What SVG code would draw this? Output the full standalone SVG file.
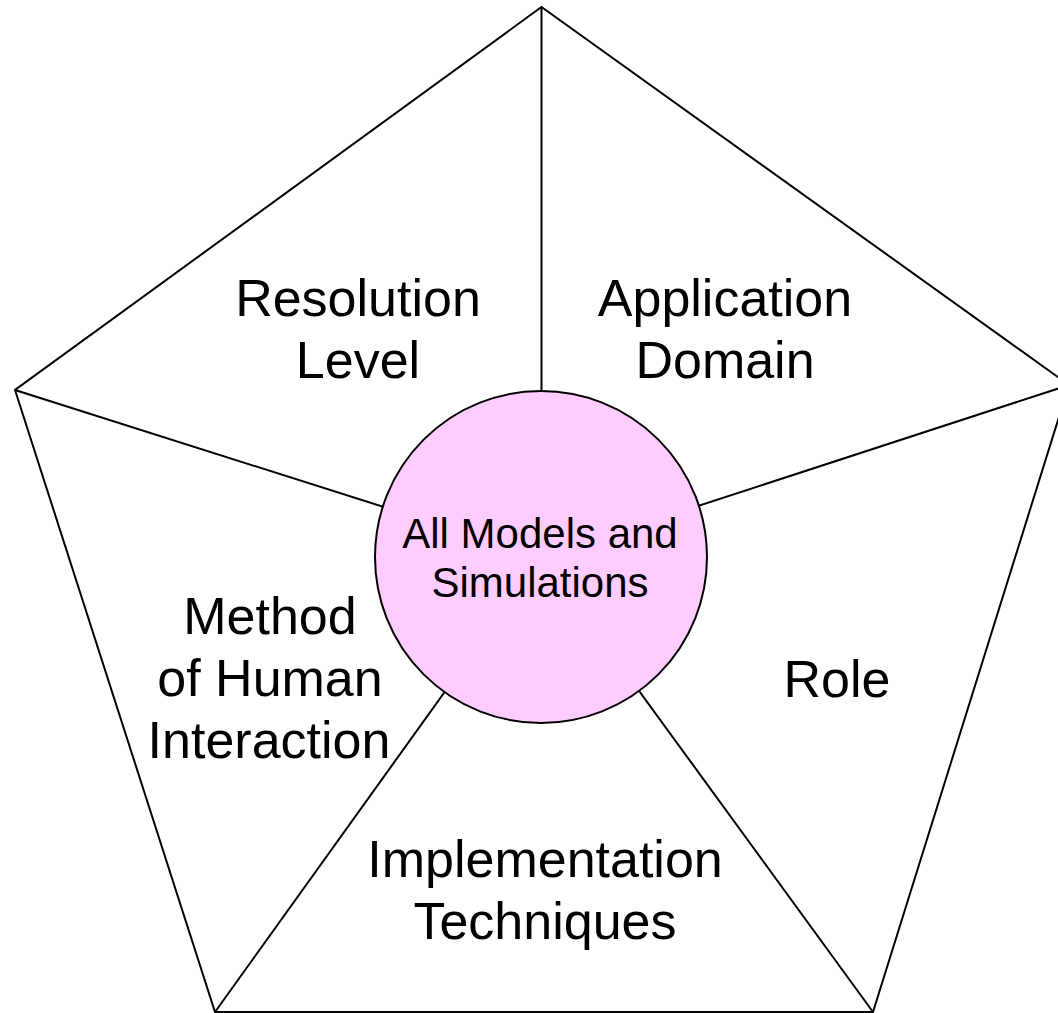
<svg xmlns="http://www.w3.org/2000/svg" width="1058" height="1013" viewBox="0 0 1058 1013">
<style>
.edge{stroke:#000;stroke-width:2;fill:none}
.lbl{font-family:"Liberation Sans",Arial,sans-serif;font-size:52px;fill:#000;text-anchor:middle}
.in{font-family:"Liberation Sans",Arial,sans-serif;font-size:42px;fill:#000;text-anchor:middle}
</style>
<rect width="1058" height="1013" fill="#fff"/>
<g id="connectors">
<polygon class="edge" points="541.5,7 1069,385 873,1012 215,1012 15,390"/>
<line class="edge" x1="541.5" y1="7" x2="541.5" y2="557"/>
<line class="edge" x1="1069" y1="385" x2="541.5" y2="557"/>
<line class="edge" x1="873" y1="1012" x2="541.5" y2="557"/>
<line class="edge" x1="215" y1="1012" x2="541.5" y2="557"/>
<line class="edge" x1="15" y1="390" x2="541.5" y2="557"/>
</g>
<g id="resolution"><text class="lbl" x="358" y="316">Resolution</text><text class="lbl" x="358" y="378">Level</text></g>
<g id="application"><text class="lbl" x="725" y="316">Application</text><text class="lbl" x="725" y="378">Domain</text></g>
<g id="method"><text class="lbl" x="270" y="634">Method</text><text class="lbl" x="270" y="696">of Human</text><text class="lbl" x="269" y="758">Interaction</text></g>
<g id="role"><text class="lbl" x="837" y="697">Role</text></g>
<g id="implementation"><text class="lbl" x="545" y="877">Implementation</text><text class="lbl" x="545" y="939">Techniques</text></g>
<g id="center"><circle cx="541" cy="557" r="166" fill="#ffccff" stroke="#000" stroke-width="2"/><text class="in" x="540" y="548">All Models and</text><text class="in" x="540" y="597">Simulations</text></g>
</svg>
